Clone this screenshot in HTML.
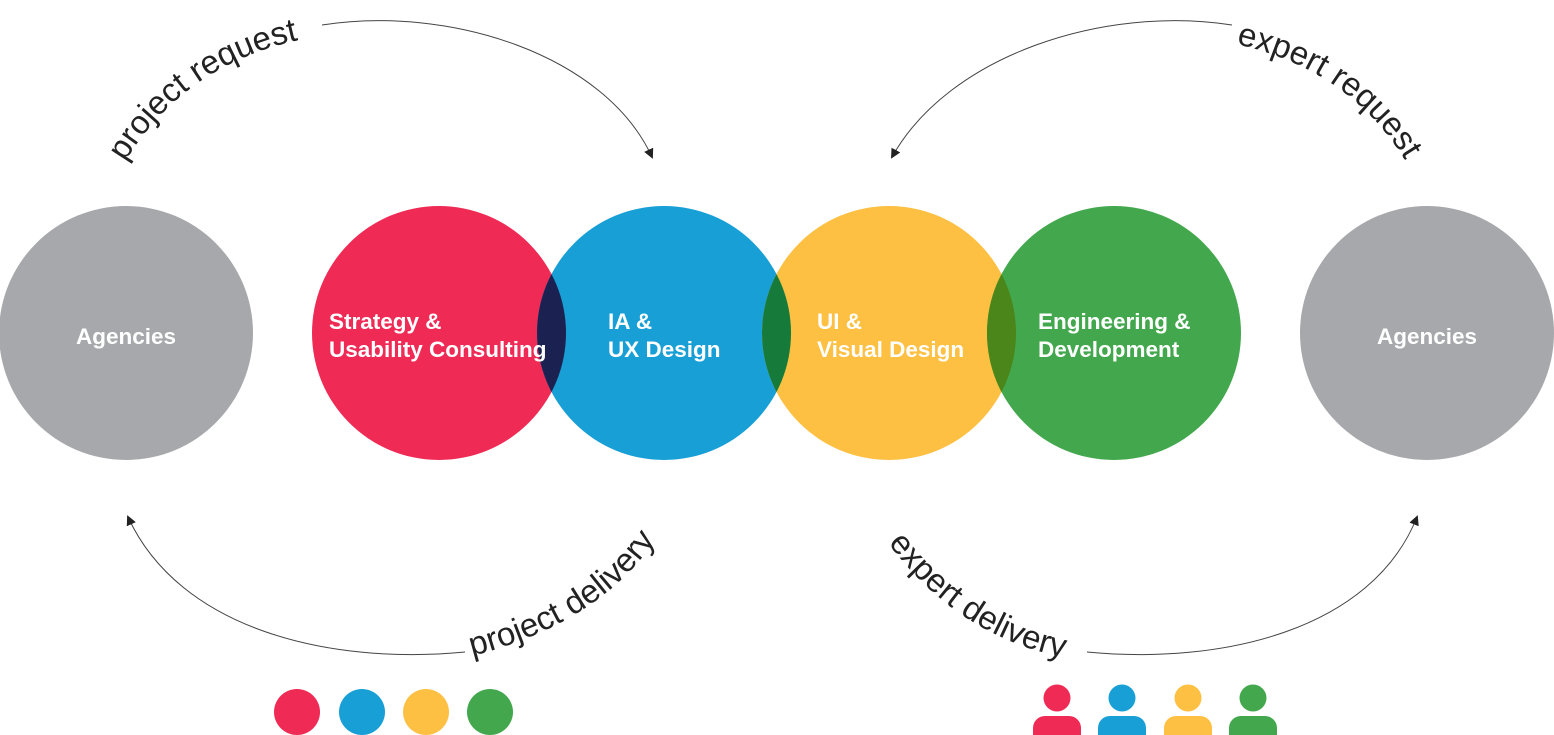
<!DOCTYPE html>
<html><head><meta charset="utf-8"><style>html,body{margin:0;padding:0;background:#fff}svg{display:block}</style></head>
<body>
<svg width="1554" height="735" viewBox="0 0 1554 735" xmlns="http://www.w3.org/2000/svg" font-family="Liberation Sans, sans-serif">
<defs>
<marker id="ar" markerWidth="10" markerHeight="10" refX="8" refY="5" orient="auto" markerUnits="userSpaceOnUse"><path d="M0,0 L10,5 L0,10 z" fill="#222"/></marker>
<clipPath id="cR"><circle cx="439" cy="333" r="127"/></clipPath>
<clipPath id="cB"><circle cx="664" cy="333" r="127"/></clipPath>
<clipPath id="cY"><circle cx="889" cy="333" r="127"/></clipPath>
<path id="t1" d="M 125 162 Q 185 62 308 38"/>
<path id="t2" d="M 1236 44 Q 1350 70 1405 160"/>
<path id="t3" d="M 472 656 Q 605 622 662 530"/>
<path id="t4" d="M 888 543 Q 962 642 1078 660"/>
</defs>
<circle cx="126" cy="333" r="127" fill="#a7a8ab"/>
<circle cx="1427" cy="333" r="127" fill="#a7a8ab"/>
<circle cx="439" cy="333" r="127" fill="#ee2a55"/>
<circle cx="664" cy="333" r="127" fill="#189fd6"/>
<circle cx="889" cy="333" r="127" fill="#fec043"/>
<circle cx="1114" cy="333" r="127" fill="#43a84d"/>
<circle cx="664" cy="333" r="127" fill="#1b2252" clip-path="url(#cR)"/>
<circle cx="889" cy="333" r="127" fill="#157a3a" clip-path="url(#cB)"/>
<circle cx="1114" cy="333" r="127" fill="#4a861a" clip-path="url(#cY)"/>
<g fill="#fff" font-size="22.5" font-weight="bold">
<text x="126" y="344" text-anchor="middle">Agencies</text>
<text x="1427" y="344" text-anchor="middle">Agencies</text>
<text x="329" y="329">Strategy &amp;</text><text x="329" y="357">Usability Consulting</text>
<text x="608" y="329">IA &amp;</text><text x="608" y="357">UX Design</text>
<text x="817" y="329">UI &amp;</text><text x="817" y="357">Visual Design</text>
<text x="1038" y="329">Engineering &amp;</text><text x="1038" y="357">Development</text>
</g>
<g fill="none" stroke="#444" stroke-width="1" marker-end="url(#ar)">
<path d="M322 25 C 450 5, 605 55, 652 157"/>
<path d="M1232 25 C 1104 5, 949 55, 892 157"/>
<path d="M465 652 C 330 665, 180 630, 128 517"/>
<path d="M1087 652 C 1222 665, 1372 630, 1417 517"/>
</g>
<g fill="#222" font-size="33">
<text><textPath href="#t1">project request</textPath></text>
<text><textPath href="#t2">expert request</textPath></text>
<text><textPath href="#t3">project delivery</textPath></text>
<text><textPath href="#t4">expert delivery</textPath></text>
</g>
<circle cx="297" cy="712" r="23" fill="#ee2a55"/>
<circle cx="362" cy="712" r="23" fill="#189fd6"/>
<circle cx="426" cy="712" r="23" fill="#fec043"/>
<circle cx="490" cy="712" r="23" fill="#43a84d"/>
<g>
<circle cx="1057" cy="698" r="13.5" fill="#ee2a55"/><rect x="1033" y="716" width="48" height="30" rx="12" fill="#ee2a55"/>
<circle cx="1122" cy="698" r="13.5" fill="#189fd6"/><rect x="1098" y="716" width="48" height="30" rx="12" fill="#189fd6"/>
<circle cx="1188" cy="698" r="13.5" fill="#fec043"/><rect x="1164" y="716" width="48" height="30" rx="12" fill="#fec043"/>
<circle cx="1253" cy="698" r="13.5" fill="#43a84d"/><rect x="1229" y="716" width="48" height="30" rx="12" fill="#43a84d"/>
</g>
</svg>
</body></html>
